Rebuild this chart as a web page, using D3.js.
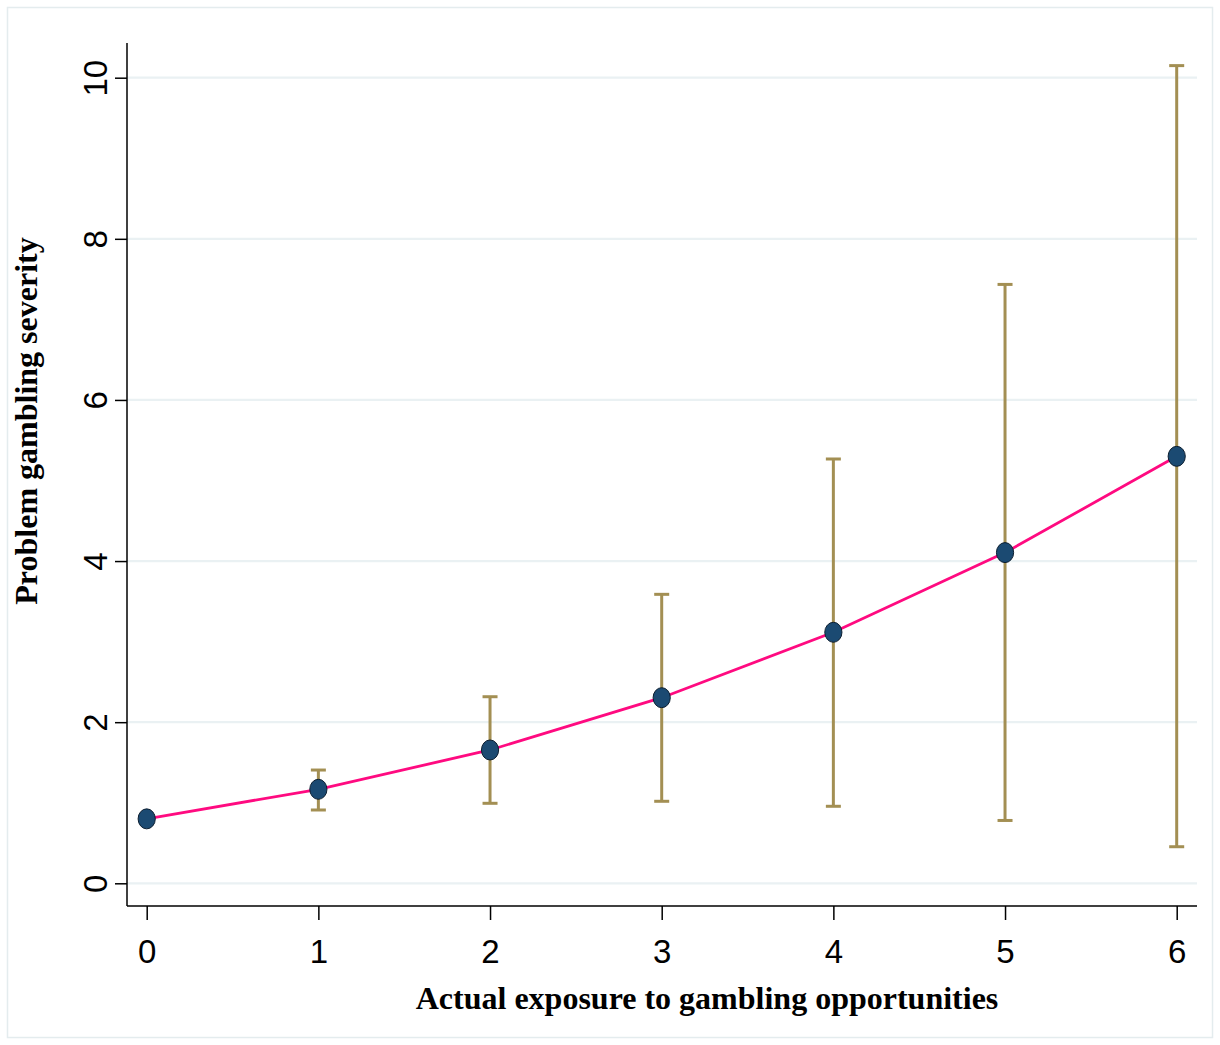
<!DOCTYPE html>
<html>
<head>
<meta charset="utf-8">
<script src="https://cdn.jsdelivr.net/npm/d3@7"></script>
<style>
  html, body { margin: 0; padding: 0; background: #ffffff; }
  svg { display: block; }
</style>
</head>
<body>
<svg id="chart" width="1220" height="1045"></svg>
<script>
// Predicted problem gambling severity by actual exposure, with 95% confidence intervals
const exposure = [0, 1, 2, 3, 4, 5, 6];
const severity = [0.80, 1.167, 1.655, 2.304, 3.116, 4.105, 5.30];
const ciLower  = [null, 0.91, 0.993, 1.018, 0.956, 0.78, 0.454];
const ciUpper  = [null, 1.406, 2.316, 3.587, 5.267, 7.434, 10.15];
const xTicks = [0, 1, 2, 3, 4, 5, 6];
const yTicks = [0, 2, 4, 6, 8, 10];

const xTitle = "Actual exposure to gambling opportunities";
const yTitle = "Problem gambling severity";

const svg = d3.select("#chart");

// outer frame
svg.append("rect")
  .attr("x", 7.5).attr("y", 7.5)
  .attr("width", 1205).attr("height", 1030)
  .attr("fill", "#ffffff")
  .attr("stroke", "#e4ecee")
  .attr("stroke-width", 1.5);

const x = d3.scaleLinear().domain([0, 6]).range([146.7, 1176.7]);
const y = d3.scaleLinear().domain([0, 10]).range([883.3, 77.7]);

const plotLeft = 127, plotRight = 1197, plotTop = 43, plotBottom = 906;

// horizontal grid lines
svg.append("g")
  .selectAll("line")
  .data(yTicks)
  .join("line")
  .attr("x1", plotLeft).attr("x2", plotRight)
  .attr("y1", d => y(d)).attr("y2", d => y(d))
  .attr("stroke", "#eaf1f3")
  .attr("stroke-width", 2.2);

// y axis
const yAxis = d3.axisLeft(y).tickValues(yTicks).tickSize(12).tickPadding(0).tickFormat(d3.format("d"));
const gy = svg.append("g")
  .attr("transform", `translate(${plotLeft},0)`)
  .call(yAxis);
gy.select(".domain").remove();
gy.selectAll(".tick line").attr("stroke", "#000").attr("stroke-width", 1.5);
gy.selectAll(".tick text")
  .attr("x", null).attr("dy", null)
  .attr("transform", "translate(-20,0) rotate(-90)")
  .attr("text-anchor", "middle")
  .attr("font-family", "'Liberation Sans', Arial, sans-serif")
  .attr("font-size", 33)
  .attr("fill", "#000");
gy.append("line")
  .attr("x1", 0).attr("x2", 0)
  .attr("y1", plotTop).attr("y2", plotBottom)
  .attr("stroke", "#000").attr("stroke-width", 1.5);

// x axis
const xAxis = d3.axisBottom(x).tickValues(xTicks).tickSize(14).tickPadding(0).tickFormat(d3.format("d"));
const gx = svg.append("g")
  .attr("transform", `translate(0,${plotBottom})`)
  .call(xAxis);
gx.select(".domain").remove();
gx.selectAll(".tick line").attr("stroke", "#000").attr("stroke-width", 1.5);
gx.selectAll(".tick text")
  .attr("y", 57).attr("dy", null)
  .attr("font-family", "'Liberation Sans', Arial, sans-serif")
  .attr("font-size", 33)
  .attr("fill", "#000");
gx.append("line")
  .attr("x1", plotLeft).attr("x2", plotRight)
  .attr("y1", 0).attr("y2", 0)
  .attr("stroke", "#000").attr("stroke-width", 1.5);

// confidence interval bars
const ciData = exposure.map((e, i) => ({ e, lo: ciLower[i], hi: ciUpper[i] }))
  .filter(d => d.lo !== null && d.hi !== null);
const ciColor = "#a38f53";
const capHalf = 7.5;
const gci = svg.append("g");
gci.selectAll("line.stem")
  .data(ciData).join("line")
  .attr("class", "stem")
  .attr("x1", d => x(d.e)).attr("x2", d => x(d.e))
  .attr("y1", d => y(d.lo)).attr("y2", d => y(d.hi))
  .attr("stroke", ciColor).attr("stroke-width", 3);
gci.selectAll("line.capHi")
  .data(ciData).join("line")
  .attr("class", "capHi")
  .attr("x1", d => x(d.e) - capHalf).attr("x2", d => x(d.e) + capHalf)
  .attr("y1", d => y(d.hi)).attr("y2", d => y(d.hi))
  .attr("stroke", ciColor).attr("stroke-width", 3);
gci.selectAll("line.capLo")
  .data(ciData).join("line")
  .attr("class", "capLo")
  .attr("x1", d => x(d.e) - capHalf).attr("x2", d => x(d.e) + capHalf)
  .attr("y1", d => y(d.lo)).attr("y2", d => y(d.lo))
  .attr("stroke", ciColor).attr("stroke-width", 3);

// fitted line
const pts = exposure.map((e, i) => ({ e, v: severity[i] }));
svg.append("path")
  .datum(pts)
  .attr("fill", "none")
  .attr("stroke", "#ff0a80")
  .attr("stroke-width", 2.8)
  .attr("d", d3.line().x(d => x(d.e)).y(d => y(d.v)));

// point estimates
svg.append("g")
  .selectAll("ellipse")
  .data(pts).join("ellipse")
  .attr("cx", d => x(d.e)).attr("cy", d => y(d.v))
  .attr("rx", 8.6).attr("ry", 10)
  .attr("fill", "#1b4a72")
  .attr("stroke", "#0c1e30")
  .attr("stroke-width", 1);

// axis titles
svg.append("text")
  .attr("x", 707).attr("y", 1009)
  .attr("text-anchor", "middle")
  .attr("font-family", "'Liberation Serif', 'Times New Roman', serif")
  .attr("font-weight", "bold")
  .attr("font-size", 32)
  .attr("fill", "#000")
  .text(xTitle);

svg.append("text")
  .attr("transform", "translate(37,421) rotate(-90)")
  .attr("text-anchor", "middle")
  .attr("font-family", "'Liberation Serif', 'Times New Roman', serif")
  .attr("font-weight", "bold")
  .attr("font-size", 32)
  .attr("fill", "#000")
  .text(yTitle);
</script>
</body>
</html>
